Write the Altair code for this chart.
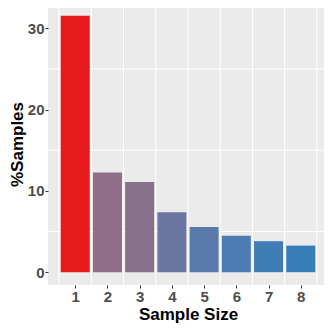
import altair as alt
import pandas as pd

sample_sizes = [1, 2, 3, 4, 5, 6, 7, 8]
pct_samples = [31.53, 12.25, 11.10, 7.36, 5.55, 4.49, 3.81, 3.27]
y_ticks = [0, 10, 20, 30]
y_minor = [5, 15, 25]
x_minor = [0.5, 1.5, 2.5, 3.5, 4.5, 5.5, 6.5, 7.5, 8.5]

bars = pd.DataFrame({"size": sample_sizes, "pct": pct_samples})
ygrid = pd.DataFrame({"v": y_minor})
xgrid = pd.DataFrame({"v": x_minor})

FONT = "Liberation Sans"
xscale = alt.Scale(domain=[0.155, 8.845], nice=False, zero=False)
yscale = alt.Scale(domain=[-1.5765, 33.1065], nice=False, zero=False)

xaxis = alt.Axis(values=sample_sizes, grid=False, domain=False,
                 tickColor="#333333", tickSize=3, tickWidth=1,
                 labelFont=FONT, labelFontWeight="bold", labelColor="#4D4D4D",
                 labelFontSize=15, labelPadding=1,
                 title="Sample Size", titleFont=FONT, titleFontWeight="bold",
                 titleFontSize=17, titleColor="black", titlePadding=2)
yaxis = alt.Axis(values=y_ticks, grid=False, domain=False,
                 tickColor="#333333", tickSize=3, tickWidth=1,
                 labelFont=FONT, labelFontWeight="bold", labelColor="#4D4D4D",
                 labelFontSize=15, labelPadding=1,
                 title="%Samples", titleFont=FONT, titleFontWeight="bold",
                 titleFontSize=17, titleColor="black", titlePadding=1)

hgrid = alt.Chart(ygrid).mark_rule(color="white", strokeWidth=1).encode(
    y=alt.Y("v:Q", scale=yscale, axis=yaxis)
)
vgrid = alt.Chart(xgrid).mark_rule(color="white", strokeWidth=1).encode(
    x=alt.X("v:Q", scale=xscale, axis=xaxis)
)

barlayer = alt.Chart(bars).transform_calculate(
    x0="datum.size - 0.45", x1="datum.size + 0.45"
).mark_rect().encode(
    x=alt.X("x0:Q", scale=xscale, axis=xaxis),
    x2="x1:Q",
    y=alt.Y("pct:Q", scale=yscale, axis=yaxis),
    y2=alt.datum(0),
    color=alt.Color("pct:Q", legend=None,
                    scale=alt.Scale(domain=[min(pct_samples), max(pct_samples)],
                                    range=["#377EB8", "#E41A1C"], interpolate="lab")),
)

chart = alt.layer(hgrid, vgrid, barlayer).properties(
    width=280, height=282,
    autosize=alt.AutoSizeParams(type="none"),
    padding={"left": 40, "top": -5, "right": -4, "bottom": 39},
).configure_view(fill="#EBEBEB", stroke=None)

chart.save("out.html", embed_options={"renderer": "svg", "actions": False})
